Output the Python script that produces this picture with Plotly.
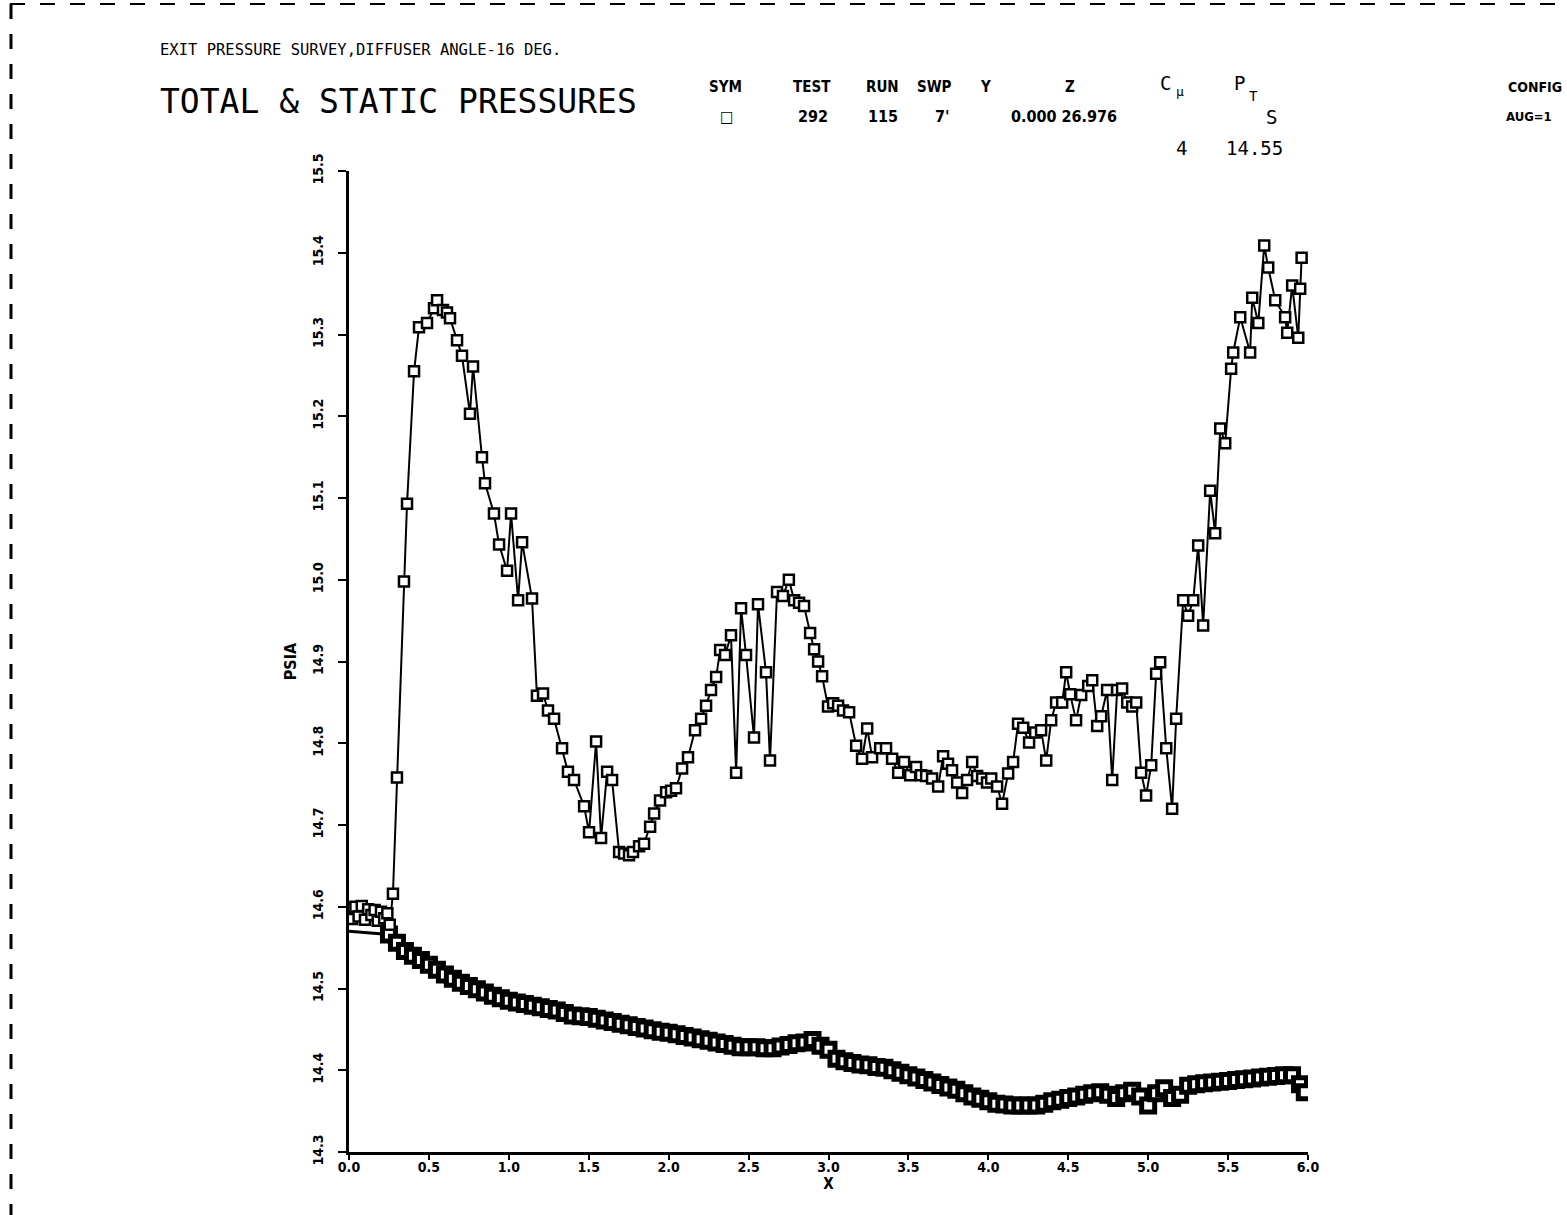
import plotly.graph_objects as go

# ---- Total pressure survey (upper curve), X vs PSIA ----
total_x = [0.00, 0.02, 0.04, 0.06, 0.08, 0.10, 0.12, 0.14, 0.16, 0.18, 0.20, 0.22, 0.24, 0.255,
           0.275, 0.300, 0.344, 0.363, 0.407, 0.438, 0.488, 0.532, 0.551, 0.588, 0.613, 0.632,
           0.676, 0.707, 0.757, 0.776, 0.832, 0.851, 0.907, 0.939, 0.989, 1.014, 1.058, 1.083,
           1.145, 1.176, 1.214, 1.245, 1.283, 1.333, 1.370, 1.408, 1.471, 1.502, 1.546, 1.577,
           1.615, 1.646, 1.690, 1.721, 1.752, 1.777, 1.815, 1.846, 1.884, 1.909, 1.946, 1.984,
           2.015, 2.046, 2.084, 2.121, 2.165, 2.203, 2.234, 2.265, 2.297, 2.322, 2.353, 2.390,
           2.422, 2.453, 2.484, 2.534, 2.559, 2.609, 2.634, 2.678, 2.715, 2.752, 2.785, 2.816,
           2.847, 2.885, 2.910, 2.935, 2.960, 2.997, 3.029, 3.060, 3.091, 3.129, 3.173, 3.210,
           3.242, 3.273, 3.323, 3.360, 3.398, 3.436, 3.473, 3.511, 3.548, 3.579, 3.611, 3.648,
           3.686, 3.717, 3.748, 3.773, 3.805, 3.836, 3.867, 3.899, 3.930, 3.961, 3.992, 4.018,
           4.055, 4.086, 4.124, 4.155, 4.186, 4.218, 4.255, 4.293, 4.330, 4.362, 4.393, 4.424,
           4.462, 4.487, 4.512, 4.549, 4.581, 4.625, 4.650, 4.681, 4.706, 4.743, 4.775, 4.806,
           4.837, 4.869, 4.900, 4.925, 4.956, 4.987, 5.019, 5.050, 5.075, 5.113, 5.150, 5.175,
           5.219, 5.250, 5.282, 5.313, 5.344, 5.388, 5.419, 5.451, 5.482, 5.519, 5.532, 5.576,
           5.638, 5.651, 5.689, 5.726, 5.751, 5.795, 5.857, 5.870, 5.901, 5.939, 5.951, 5.960]
total_p = [14.598, 14.585, 14.600, 14.588, 14.601, 14.584, 14.597, 14.590, 14.596, 14.583, 14.594, 14.586, 14.592, 14.578,
           14.616, 14.758, 14.998, 15.093, 15.255, 15.309, 15.314, 15.332, 15.342, 15.330, 15.327, 15.320,
           15.293, 15.274, 15.203, 15.261, 15.150, 15.118, 15.081, 15.043, 15.011, 15.081, 14.975, 15.046,
           14.977, 14.858, 14.861, 14.840, 14.830, 14.794, 14.765, 14.755, 14.723, 14.691, 14.802, 14.684,
           14.765, 14.755, 14.667, 14.665, 14.663, 14.667, 14.674, 14.677, 14.698, 14.714, 14.730, 14.740,
           14.742, 14.745, 14.769, 14.783, 14.816, 14.830, 14.846, 14.865, 14.881, 14.914, 14.908, 14.932,
           14.764, 14.965, 14.908, 14.807, 14.970, 14.887, 14.779, 14.985, 14.980, 15.000, 14.975, 14.972,
           14.968, 14.935, 14.915, 14.900, 14.882, 14.845, 14.849, 14.846, 14.840, 14.838, 14.797, 14.781,
           14.818, 14.783, 14.794, 14.794, 14.781, 14.764, 14.777, 14.761, 14.771, 14.761, 14.760, 14.757,
           14.747, 14.784, 14.775, 14.767, 14.752, 14.739, 14.755, 14.777, 14.760, 14.757, 14.752, 14.757,
           14.747, 14.726, 14.763, 14.777, 14.824, 14.819, 14.801, 14.813, 14.816, 14.779, 14.828, 14.850,
           14.850, 14.887, 14.860, 14.828, 14.859, 14.870, 14.877, 14.821, 14.833, 14.865, 14.755, 14.865,
           14.867, 14.850, 14.845, 14.850, 14.764, 14.736, 14.773, 14.885, 14.899, 14.794, 14.720, 14.830,
           14.975, 14.956, 14.975, 15.042, 14.944, 15.109, 15.057, 15.185, 15.167, 15.258, 15.278, 15.321,
           15.278, 15.345, 15.314, 15.409, 15.382, 15.342, 15.321, 15.302, 15.360, 15.296, 15.356, 15.394]

# ---- Static pressure survey (lower curve) ----
static_x = [0.00, 0.25, 0.30, 0.35, 0.40, 0.45, 0.50, 0.55, 0.60, 0.65, 0.70, 0.75, 0.80, 0.85, 0.90, 0.95,
            1.00, 1.05, 1.10, 1.15, 1.20, 1.25, 1.30, 1.35, 1.40, 1.45, 1.50, 1.55, 1.60, 1.65, 1.70, 1.75,
            1.80, 1.85, 1.90, 1.95, 2.00, 2.05, 2.10, 2.15, 2.20, 2.25, 2.30, 2.35, 2.40, 2.45, 2.50, 2.55,
            2.60, 2.65, 2.70, 2.75, 2.80, 2.85, 2.90, 2.95, 3.00, 3.05, 3.10, 3.15, 3.20, 3.25, 3.30, 3.35,
            3.40, 3.45, 3.50, 3.55, 3.60, 3.65, 3.70, 3.75, 3.80, 3.85, 3.90, 3.95, 4.00, 4.05, 4.10, 4.15,
            4.20, 4.25, 4.30, 4.35, 4.40, 4.45, 4.50, 4.55, 4.60, 4.65, 4.70, 4.75, 4.80, 4.85, 4.90, 4.95,
            5.00, 5.05, 5.10, 5.15, 5.20, 5.25, 5.30, 5.35, 5.40, 5.45, 5.50, 5.55, 5.60, 5.65, 5.70, 5.75,
            5.80, 5.85, 5.90, 5.95, 5.98]
static_p = [14.570, 14.566, 14.556, 14.546, 14.540, 14.535, 14.529, 14.523, 14.517, 14.512, 14.507, 14.503, 14.499, 14.495, 14.491, 14.488,
            14.485, 14.483, 14.481, 14.479, 14.477, 14.475, 14.473, 14.470, 14.467, 14.466, 14.465, 14.463, 14.461, 14.459, 14.457, 14.455,
            14.453, 14.451, 14.449, 14.447, 14.446, 14.444, 14.442, 14.440, 14.438, 14.436, 14.434, 14.432, 14.430, 14.428, 14.428, 14.428,
            14.427, 14.427, 14.429, 14.431, 14.433, 14.434, 14.437, 14.430, 14.425, 14.414, 14.411, 14.409, 14.407, 14.406, 14.404, 14.403,
            14.400, 14.397, 14.394, 14.391, 14.388, 14.385, 14.382, 14.379, 14.376, 14.372, 14.368, 14.365, 14.362, 14.359, 14.358, 14.357,
            14.357, 14.357, 14.357, 14.359, 14.362, 14.364, 14.366, 14.368, 14.370, 14.372, 14.373, 14.370, 14.366, 14.372, 14.375, 14.368,
            14.357, 14.372, 14.378, 14.366, 14.370, 14.381, 14.383, 14.384, 14.385, 14.386, 14.387, 14.388, 14.389, 14.390, 14.391, 14.392,
            14.393, 14.394, 14.394, 14.383, 14.373]

x_ticks = [0.0, 0.5, 1.0, 1.5, 2.0, 2.5, 3.0, 3.5, 4.0, 4.5, 5.0, 5.5, 6.0]
y_ticks = [14.3, 14.4, 14.5, 14.6, 14.7, 14.8, 14.9, 15.0, 15.1, 15.2, 15.3, 15.4, 15.5]

W, H = 1567, 1215
L, R, T, B = 349, 1308, 171, 1152


def px(x):
    return (x - L) / (R - L)


def py(y):
    return (B - y) / (B - T)


fig = go.Figure()
# static: connecting line over all points, square symbols from the first probe station onward
fig.add_trace(go.Scatter(
    x=static_x, y=static_p, mode="lines",
    line=dict(color="black", width=3),
    showlegend=False, hoverinfo="skip"))
fig.add_trace(go.Scatter(
    x=static_x[1:], y=static_p[1:], mode="markers",
    marker=dict(symbol="square", size=13, color="white", opacity=1,
                line=dict(color="black", width=5)),
    showlegend=False, hoverinfo="skip"))
fig.add_trace(go.Scatter(
    x=total_x, y=total_p, mode="lines+markers",
    line=dict(color="black", width=2),
    marker=dict(symbol="square", size=10, color="white", opacity=1,
                line=dict(color="black", width=2.5)),
    showlegend=False, hoverinfo="skip"))

tickfont = dict(family="DejaVu Sans Condensed", size=14, color="black")
fig.update_xaxes(range=[0, 6], tickvals=x_ticks, ticktext=[f"<b>{v:.1f}</b>" for v in x_ticks],
                 showline=True, linecolor="black", linewidth=2.5, ticks="outside", ticklen=5,
                 tickwidth=2, tickcolor="black", showgrid=False, zeroline=False, tickfont=tickfont,
                 ticklabelstandoff=-5,
                 title=dict(text="<b>X</b>", font=dict(family="DejaVu Sans Condensed", size=15, color="black"), standoff=0))
fig.update_yaxes(range=[14.3, 15.5], tickvals=y_ticks, ticktext=[f"<b>{v:.1f}</b>" for v in y_ticks],
                 tickangle=-90, showline=True, linecolor="black", linewidth=2.5, ticks="outside", ticklen=8,
                 tickwidth=2, tickcolor="black", showgrid=False, zeroline=False, tickfont=tickfont,
                 ticklabelstandoff=10,
                 title=dict(text="<b>PSIA</b>", font=dict(family="DejaVu Sans Condensed", size=16, color="black"), standoff=10))

mono = "DejaVu Sans Mono"
ann = []


def add(text, x, y, size, family=mono, xanchor="left", bold=False):
    t = f"<b>{text}</b>" if bold else text
    ann.append(dict(text=t, x=px(x), y=py(y), xref="paper", yref="paper", showarrow=False,
                    xanchor=xanchor, yanchor="middle", font=dict(family=family, size=size, color="black")))


add("EXIT PRESSURE SURVEY,DIFFUSER ANGLE-16 DEG.", 158, 50, 15.5)
add("TOTAL &amp; STATIC PRESSURES", 158, 102, 33)
hdr = [("SYM", 725), ("TEST", 812), ("RUN", 882), ("SWP", 934), ("Y", 985), ("Z", 1070)]
for t, x in hdr:
    add(t, x, 87, 15, family="DejaVu Sans Condensed", xanchor="center", bold=True)
add("CONFIG", 1506, 87, 14, family="DejaVu Sans Condensed", bold=True)
vals = [("□", 727), ("292", 813), ("115", 883), ("7'", 942), ("0.000 26.976", 1064)]
for t, x in vals:
    add(t, x, 116, 16, family="DejaVu Sans Condensed", xanchor="center", bold=True)
add("AUG=1", 1504, 116, 13, family="DejaVu Sans Condensed", bold=True)
add("C", 1165, 83, 19, xanchor="center")
add("μ", 1180, 92, 13, xanchor="center")
add("P", 1239, 83, 19, xanchor="center")
add("T", 1253, 96, 14, xanchor="center")
add("S", 1271, 117, 19, xanchor="center")
add("4", 1181, 148, 19, xanchor="center")
add("14.55", 1224, 148, 19)

shapes = [
    dict(type="line", xref="paper", yref="paper", x0=px(10), x1=px(1567), y0=py(4), y1=py(4),
         line=dict(color="black", width=2, dash="longdash")),
    dict(type="line", xref="paper", yref="paper", x0=px(11), x1=px(11), y0=py(4), y1=py(1215),
         line=dict(color="black", width=3, dash="longdash")),
]

fig.update_layout(width=W, height=H, autosize=False,
                  margin=dict(l=L, r=W - R, t=T, b=H - B),
                  plot_bgcolor="white", paper_bgcolor="white",
                  annotations=ann, shapes=shapes)

fig.write_html("out.html", config={"displayModeBar": False},
               post_script="document.body.style.margin='0px';")
